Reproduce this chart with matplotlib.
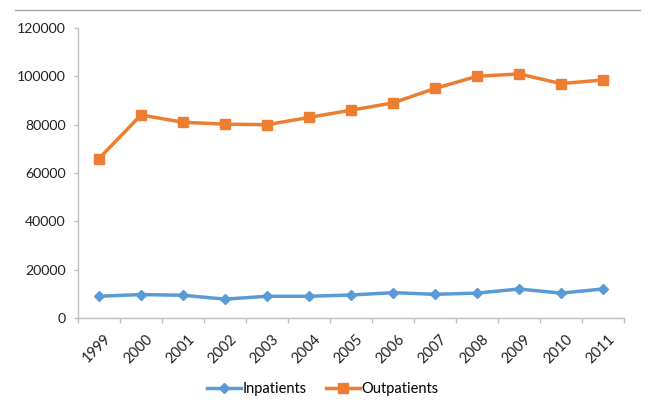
import matplotlib
matplotlib.use("Agg")
import matplotlib.pyplot as plt
from matplotlib.lines import Line2D
from matplotlib.transforms import ScaledTranslation

years = ["1999", "2000", "2001", "2002", "2003", "2004", "2005",
         "2006", "2007", "2008", "2009", "2010", "2011"]
inpatients = [9000, 9700, 9400, 7800, 9000, 9000, 9500, 10500, 9800, 10300, 12000, 10300, 12000]
outpatients = [66000, 84000, 81000, 80200, 80000, 83000, 86000, 89000, 95000, 100000, 101000, 97000, 98500]
yticks = [0, 20000, 40000, 60000, 80000, 100000, 120000]

plt.rcParams['font.family'] = ['Lato', 'DejaVu Sans']

W, H = 666, 417
fig = plt.figure(figsize=(W / 100, H / 100), dpi=100)
ax = fig.add_axes([78 / W, 1 - 318 / H, (624 - 78) / W, (318 - 28) / H])

blue = '#5B9BD5'
orange = '#ED7D31'
x = list(range(len(years)))
ax.plot(x, inpatients, color=blue, lw=2.5, marker='D', ms=5.5, label='Inpatients')
ax.plot(x, outpatients, color=orange, lw=2.5, marker='s', ms=6.5, label='Outpatients')

ax.set_xlim(-0.5, len(years) - 0.5)
ax.set_ylim(0, 120000)
ax.set_yticks(yticks)
ax.set_yticklabels([str(v) for v in yticks], fontsize=10.2, color='#222222')
ax.set_xticks(x)
ax.set_xticklabels(years, rotation=45, ha='right', rotation_mode='anchor', fontsize=10.5, color='#222222')
ax.tick_params(axis='x', length=0, pad=10)
off = ScaledTranslation(5 / 100, 0, fig.dpi_scale_trans)
for lbl in ax.get_xticklabels():
    lbl.set_transform(lbl.get_transform() + off)
ax.set_xticks([i - 0.5 for i in range(len(years) + 1)], minor=True)
ax.tick_params(axis='x', which='minor', length=3.6, color='#BFBFBF', width=1)
ax.tick_params(axis='y', length=3, color='#BFBFBF', width=1, pad=5.8)

for s in ['top', 'right']:
    ax.spines[s].set_visible(False)
for s in ['left', 'bottom']:
    ax.spines[s].set_color('#BFBFBF')
    ax.spines[s].set_linewidth(1)

fig.legend(handles=ax.get_lines(), loc='center', bbox_to_anchor=(323 / W, 1 - 389 / H),
           ncol=2, frameon=False, fontsize=10.5, handlelength=2.3, columnspacing=1.3, handletextpad=0.15)

fig.add_artist(Line2D([15 / W, 640 / W], [1 - 10 / H, 1 - 10 / H], color='#A6A6A6', lw=1))

fig.savefig('out.png', dpi=100, facecolor='white')
